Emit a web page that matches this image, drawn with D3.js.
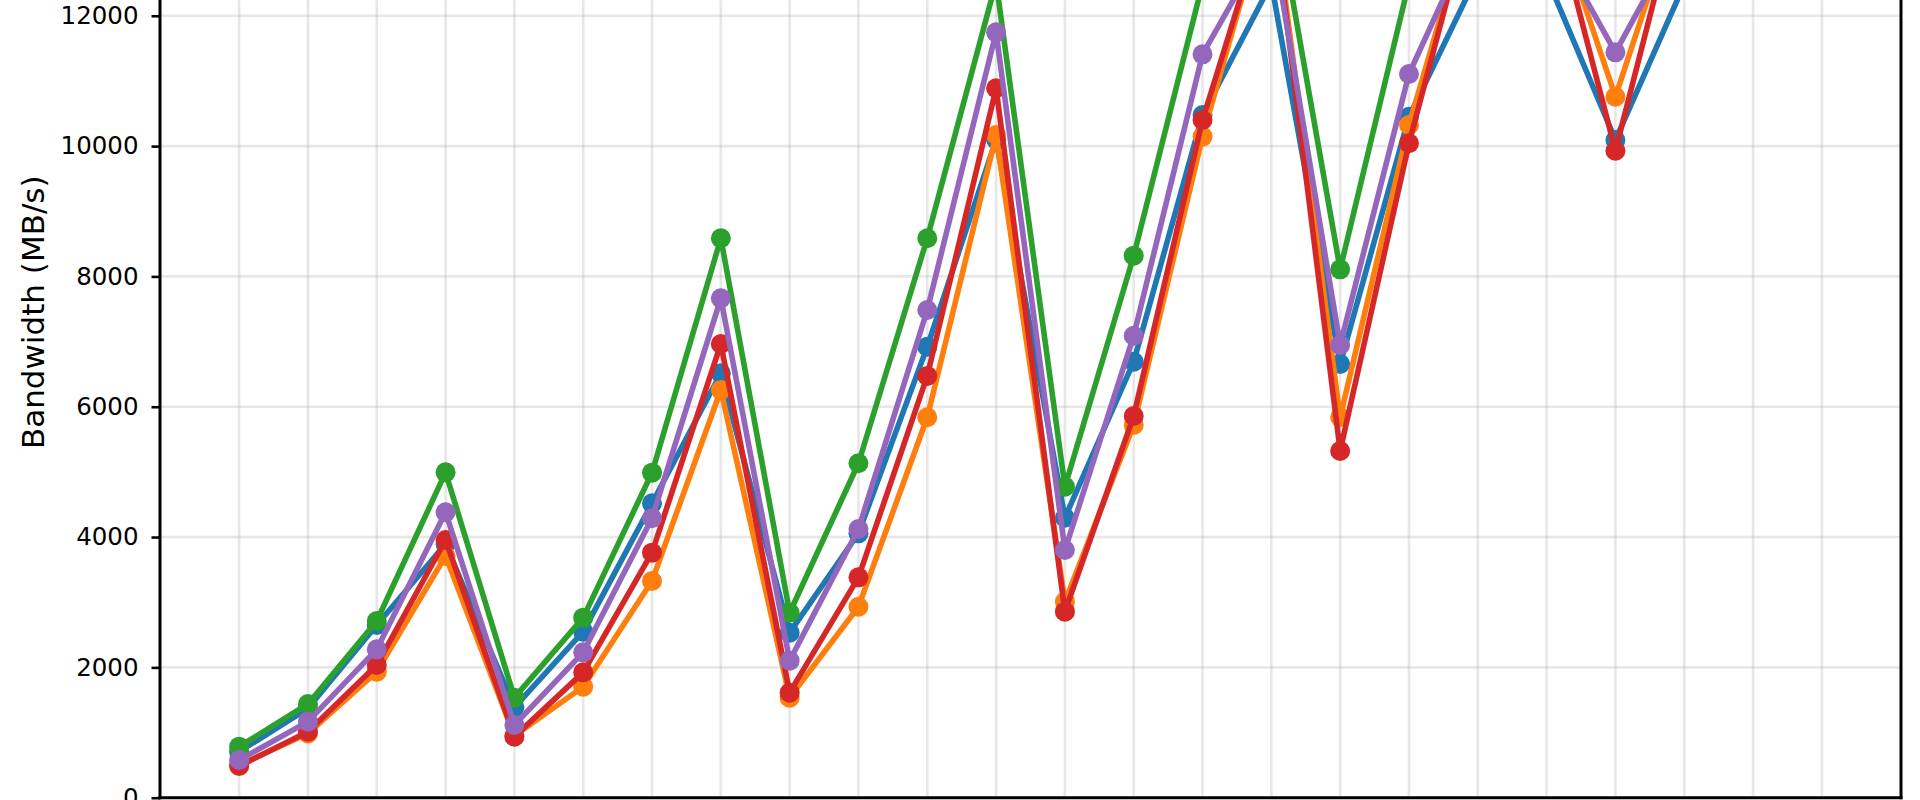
<!DOCTYPE html>
<html>
<head>
<meta charset="utf-8">
<script src="https://cdn.jsdelivr.net/npm/d3@7"></script>
<style>
  html, body { margin: 0; padding: 0; background: #ffffff; overflow: hidden; }
  svg { display: block; }
</style>
</head>
<body>
<svg id="chart" width="1920" height="800"></svg>
<script>
// ---- data ----
const categories = [0, 1, 2, 3, 4, 5, 6, 7, 8, 9, 10, 11, 12, 13, 14, 15, 16, 17, 18, 19, 20, 21, 22, 23];
const seriesNames = ["Series 1", "Series 2", "Series 3", "Series 4", "Series 5"];
const series1 = [706, 1372, 2650, 3893, 1387, 2548, 4518, 6513, 2532, 4057, 6922, 10100, 4297, 6691, 10477, 12500, 6656, 10451, 12635, 12595, 10093, 12483, 13200, 13500];
const series2 = [500, 985, 1934, 3709, 950, 1704, 3326, 6257, 1535, 2931, 5838, 10170, 3008, 5720, 10146, 13870, 5838, 10324, 13943, 13895, 10758, 13958, 13800, 13900];
const series3 = [783, 1438, 2712, 4993, 1535, 2763, 4988, 8585, 2839, 5132, 8585, 12520, 4773, 8318, 12493, 14100, 8109, 12510, 13800, 14200, 12900, 13600, 13900, 14150];
const series4 = [486, 1013, 2036, 3955, 937, 1924, 3761, 6963, 1612, 3382, 6473, 10887, 2855, 5858, 10401, 13808, 5321, 10043, 14019, 13992, 9929, 14053, 13950, 14000];
const series5 = [579, 1167, 2277, 4380, 1116, 2231, 4288, 7664, 2103, 4124, 7485, 11746, 3801, 7090, 11408, 13270, 6947, 11106, 13419, 13332, 11439, 13373, 13500, 13700];
const yTicks = [0, 2000, 4000, 6000, 8000, 10000, 12000];
const yLabel = "Bandwidth (MB/s)";
const colors = ["#1f77b4", "#ff7f0e", "#2ca02c", "#d62728", "#9467bd"];

const allSeries = [series1, series2, series3, series4, series5];

// ---- layout ----
const svg = d3.select("#chart");
const plotLeft = 160, plotRight = 1901, plotBottom = 797.7, plotTop = -173.2;

const x = d3.scaleLinear().domain([-1.15, 24.15]).range([plotLeft, plotRight]);
const y = d3.scaleLinear().domain([0, 14900]).range([plotBottom, plotTop]);

svg.append("rect").attr("width", 1920).attr("height", 800).attr("fill", "#ffffff");

svg.append("defs").append("clipPath").attr("id", "plotclip")
  .append("rect")
  .attr("x", plotLeft).attr("y", plotTop)
  .attr("width", plotRight - plotLeft).attr("height", plotBottom - plotTop);

// grid
const grid = svg.append("g").attr("clip-path", "url(#plotclip)");
grid.selectAll("line.vg").data(categories).enter().append("line")
  .attr("class", "vg")
  .attr("x1", d => x(d)).attr("x2", d => x(d))
  .attr("y1", plotTop).attr("y2", plotBottom)
  .attr("stroke", "#b0b0b0").attr("stroke-opacity", 0.3).attr("stroke-width", 2.6);
grid.selectAll("line.hg").data(yTicks).enter().append("line")
  .attr("class", "hg")
  .attr("x1", plotLeft).attr("x2", plotRight)
  .attr("y1", d => y(d)).attr("y2", d => y(d))
  .attr("stroke", "#b0b0b0").attr("stroke-opacity", 0.3).attr("stroke-width", 2.6);

// series
const plot = svg.append("g").attr("clip-path", "url(#plotclip)");
const line = d3.line().x((d, i) => x(categories[i])).y(d => y(d));
allSeries.forEach((vals, si) => {
  const g = plot.append("g");
  g.append("path").datum(vals)
    .attr("d", line)
    .attr("fill", "none")
    .attr("stroke", colors[si])
    .attr("stroke-width", 5.6)
    .attr("stroke-linejoin", "round")
    .attr("stroke-linecap", "square");
  g.selectAll("circle").data(vals).enter().append("circle")
    .attr("cx", (d, i) => x(categories[i]))
    .attr("cy", d => y(d))
    .attr("r", 10)
    .attr("fill", colors[si]);
});

// y axis
const yAxis = d3.axisLeft(y).tickValues(yTicks).tickSize(8.5).tickPadding(13).tickFormat(d3.format("d"));
const ya = svg.append("g").attr("transform", `translate(${plotLeft},0)`).call(yAxis);
ya.select(".domain").remove();
ya.selectAll(".tick line").attr("stroke", "#000").attr("stroke-width", 2.6);
ya.selectAll(".tick text")
  .attr("fill", "#000")
  .style("font-family", "'DejaVu Sans', sans-serif")
  .style("font-size", "24.5px");

// spines
const spines = svg.append("g").attr("fill", "none").attr("stroke", "#000").attr("stroke-width", 3);
spines.append("line").attr("x1", plotLeft).attr("x2", plotLeft).attr("y1", plotTop).attr("y2", plotBottom + 1.5);
spines.append("line").attr("x1", plotRight).attr("x2", plotRight).attr("y1", plotTop).attr("y2", plotBottom + 1.5);
spines.append("line").attr("x1", plotLeft - 1.5).attr("x2", plotRight + 1.5).attr("y1", plotBottom).attr("y2", plotBottom);

// y label
svg.append("text")
  .attr("transform", `translate(33,${(plotTop + plotBottom) / 2}) rotate(-90)`)
  .attr("text-anchor", "middle")
  .attr("dominant-baseline", "central")
  .style("font-family", "'DejaVu Sans', sans-serif")
  .style("font-size", "31px")
  .attr("fill", "#000")
  .text(yLabel);
</script>
</body>
</html>
